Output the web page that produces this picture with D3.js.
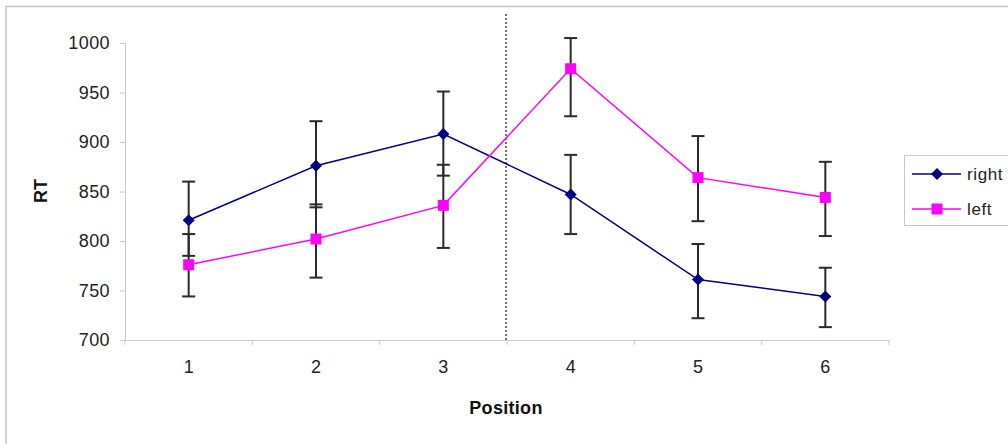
<!DOCTYPE html>
<html><head><meta charset="utf-8">
<script src="https://cdn.jsdelivr.net/npm/d3@7"></script>
<style>body{margin:0;background:#fff;overflow:hidden;} svg{display:block;font-family:Arial,"Liberation Sans",sans-serif;}</style>
</head><body>
<svg id="c" width="1008" height="444"></svg>
<script>
const categories = ["1","2","3","4","5","6"];
const rightVals = [821, 876, 908, 847, 761, 744];
const rightHi   = [860, 921, 951, 887, 797, 773];
const rightLo   = [785, 834, 866, 807, 722, 713];
const leftVals  = [776, 802, 836, 974, 864, 844];
const leftHi    = [807, 837, 877, 1005, 906, 880];
const leftLo    = [744, 763, 793, 926, 820, 805];
const yTicks = [700, 750, 800, 850, 900, 950, 1000];
const seriesNames = ["right", "left"];
const dividerAfter = "3";

const svg = d3.select("#c");
const plot = {l:125, r:889, t:43, b:340};
const FONT = "Arial, 'Liberation Sans', sans-serif";

svg.append("rect").attr("x",6).attr("y",6.5).attr("width",1100).attr("height",500)
  .attr("fill","#fff").attr("stroke","#c4c4c4").attr("stroke-width",1.5);

const x = d3.scaleBand().domain(categories).range([plot.l, plot.r]).padding(0);
const y = d3.scaleLinear().domain([700,1000]).range([plot.b, plot.t]);
const cx = c => x(c) + x.bandwidth()/2;

// y axis
const ya = svg.append("g").attr("transform",`translate(${plot.l},0)`)
  .call(d3.axisLeft(y).tickValues(yTicks).tickFormat(d3.format("d")).tickSize(5).tickPadding(10));
ya.select(".domain").attr("stroke","#c8c8c8");
ya.selectAll(".tick line").attr("stroke","#c8c8c8");
ya.selectAll(".tick text").attr("font-size",18).attr("fill","#222").attr("font-family",FONT)
  .attr("letter-spacing","0.4");

// x axis
const xa = svg.append("g").attr("transform",`translate(0,${plot.b})`)
  .call(d3.axisBottom(x).tickSize(0).tickPadding(20));
xa.select(".domain").attr("stroke","#c8c8c8");
xa.selectAll(".tick text").attr("font-size",18).attr("fill","#222").attr("font-family",FONT);
const bounds = categories.map(c => x(c)).concat([x(categories[categories.length-1]) + x.bandwidth()]);
svg.append("g").selectAll("line").data(bounds).join("line")
  .attr("x1",d=>d).attr("x2",d=>d).attr("y1",plot.b).attr("y2",plot.b+5)
  .attr("stroke","#c8c8c8");

// divider
const dx = x(categories[categories.indexOf(dividerAfter)+1]) - 1;
svg.append("line").attr("x1",dx).attr("x2",dx).attr("y1",14).attr("y2",plot.b)
  .attr("stroke","#111").attr("stroke-width",1.2).attr("stroke-dasharray","2,2");

// titles
svg.append("text").attr("x",506).attr("y",414).attr("text-anchor","middle")
  .attr("font-size",18).attr("font-weight","bold").attr("fill","#111").attr("letter-spacing","0.3").text("Position");
svg.append("text").attr("transform","translate(47,191) rotate(-90)").attr("text-anchor","middle")
  .attr("font-size",18).attr("font-weight","bold").attr("fill","#111").text("RT");

const series = [
  {name:seriesNames[0], vals:rightVals, hi:rightHi, lo:rightLo, color:"#000080", shape:"diamond"},
  {name:seriesNames[1], vals:leftVals, hi:leftHi, lo:leftLo, color:"#ff00ff", shape:"square"}
];

const line = d3.line().x((d,i)=>cx(categories[i])).y(d=>y(d));

// error bars
series.slice().reverse().forEach(s=>{
  const g = svg.append("g").attr("stroke","#2a2a2a").attr("stroke-width",2);
  categories.forEach((c,i)=>{
    g.append("line").attr("x1",cx(c)).attr("x2",cx(c)).attr("y1",y(s.hi[i])).attr("y2",y(s.lo[i]));
    [s.hi[i], s.lo[i]].forEach(v=>{
      g.append("line").attr("x1",cx(c)-6.5).attr("x2",cx(c)+6.5).attr("y1",y(v)).attr("y2",y(v));
    });
  });
});

function marker(g, shape, color, px, py){
  if(shape==="diamond"){
    g.append("path").attr("d", d3.symbol().type(d3.symbolSquare).size(72)())
      .attr("transform",`translate(${px},${py}) rotate(45)`).attr("fill",color);
  } else {
    g.append("rect").attr("x",px-5.5).attr("y",py-5.5).attr("width",11).attr("height",11).attr("fill",color);
  }
}

series.forEach(s=>{
  svg.append("path").datum(s.vals).attr("d",line).attr("fill","none")
    .attr("stroke",s.color).attr("stroke-width",1.5);
});
series.forEach(s=>{
  const g = svg.append("g");
  s.vals.forEach((v,i)=>marker(g, s.shape, s.color, cx(categories[i]), y(v)));
});

// legend
const lg = svg.append("g");
lg.append("rect").attr("x",904.5).attr("y",155.5).attr("width",110).attr("height",70)
  .attr("fill","#fff").attr("stroke","#c8c8c8");
series.forEach((s,i)=>{
  const ly = 174 + i*35;
  lg.append("line").attr("x1",912).attr("x2",961).attr("y1",ly).attr("y2",ly)
    .attr("stroke",s.color).attr("stroke-width",1.5);
  marker(lg, s.shape, s.color, 937, ly);
  lg.append("text").attr("x",967).attr("y",ly+6).attr("font-size",17).attr("fill","#222")
    .attr("letter-spacing","0.6").attr("font-family",FONT).text(s.name);
});
</script>
</body></html>
